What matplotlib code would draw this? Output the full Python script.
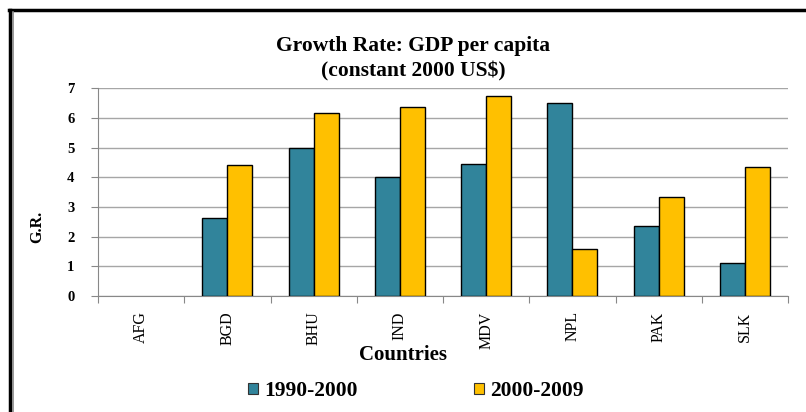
import matplotlib
matplotlib.use("Agg")
import matplotlib.pyplot as plt
import numpy as np
from matplotlib.lines import Line2D
from matplotlib.patches import Patch

countries = ["AFG", "BGD", "BHU", "IND", "MDV", "NPL", "PAK", "SLK"]
g1990_2000 = [0, 2.64, 5.0, 4.02, 4.46, 6.49, 2.35, 1.11]
g2000_2009 = [0, 4.43, 6.16, 6.36, 6.74, 1.58, 3.33, 4.34]
series_names = ["1990-2000", "2000-2009"]
yticks = [0, 1, 2, 3, 4, 5, 6, 7]

teal = "#31849B"
yellow = "#FFC000"
serif = ["Liberation Serif", "DejaVu Serif"]

W, H = 806, 412
fig = plt.figure(figsize=(W / 100, H / 100), dpi=100)
fig.patch.set_facecolor("white")

ax = fig.add_axes([98 / W, 1 - 296 / H, 690 / W, (296 - 88.3) / H])
x = np.arange(len(countries))
bw = 0.29
lw1 = [1 if v != 0 else 0 for v in g1990_2000]
lw2 = [1 if v != 0 else 0 for v in g2000_2009]
ax.bar(x - bw / 2, g1990_2000, bw, color=teal, edgecolor="black", linewidth=lw1, zorder=3)
ax.bar(x + bw / 2, g2000_2009, bw, color=yellow, edgecolor="black", linewidth=lw2, zorder=3)

ax.set_xlim(-0.5, len(countries) - 0.5)
ax.set_ylim(0, 7)
ax.set_yticks(yticks)
ax.set_yticklabels([str(v) for v in yticks], fontfamily=serif, fontweight="bold", fontsize=10.5)
ax.yaxis.grid(True, color="#a6a6a6", linewidth=1, zorder=0)
ax.set_axisbelow(True)

ax.set_xticks(np.arange(-0.5, len(countries), 1.0))
ax.set_xticklabels([])
ax.set_xticks(x, minor=True)
ax.set_xticklabels(countries, minor=True, rotation=90, fontfamily=serif, fontsize=11.5)
ax.tick_params(axis="x", which="minor", length=0, pad=11)
ax.tick_params(axis="x", which="major", length=5, color="#888888")
ax.tick_params(axis="y", length=5, color="#888888", pad=12)
for s in ["top", "right"]:
    ax.spines[s].set_visible(False)
for s in ["left", "bottom"]:
    ax.spines[s].set_color("#888888")

fig.text(413 / W, 1 - 59 / H, "Growth Rate: GDP per capita\n(constant 2000 US$)",
         ha="center", va="center", fontfamily=serif, fontweight="bold", fontsize=15.5,
         linespacing=1.35)
fig.text(37 / W, 1 - 227 / H, "G.R.", rotation=90, ha="center", va="center",
         fontfamily=serif, fontweight="bold", fontsize=11.5)
fig.text(403 / W, 1 - 355 / H, "Countries", ha="center", va="center",
         fontfamily=serif, fontweight="bold", fontsize=15)

handles = [Patch(facecolor=teal, edgecolor="#333333", linewidth=0.8),
           Patch(facecolor=yellow, edgecolor="#333333", linewidth=0.8)]
leg = fig.legend(handles, series_names, loc="center", bbox_to_anchor=(416 / W, 1 - 391 / H),
                 ncol=2, frameon=False, handlelength=0.45, handleheight=0.45,
                 handletextpad=0.3, columnspacing=5.4,
                 prop={"family": serif, "weight": "bold", "size": 15.5})

# outer frame
fig.add_artist(Line2D([10 / W, 10 / W], [0, 1 - 10 / H], color="black", lw=2.5))
fig.add_artist(Line2D([9 / W, 1], [1 - 10 / H, 1 - 10 / H], color="black", lw=2.5))
fig.add_artist(Line2D([12.8 / W, 12.8 / W], [0, 1 - 12 / H], color="#888888", lw=1.2))

fig.savefig("out.png", dpi=100, facecolor="white")
